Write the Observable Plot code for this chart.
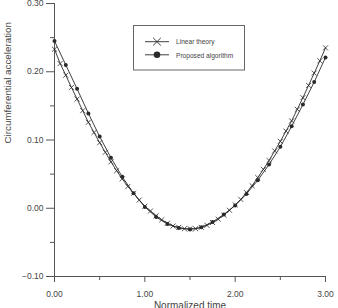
<!DOCTYPE html>
<html>
<head>
<meta charset="utf-8">
<script src="https://cdn.jsdelivr.net/npm/d3@7"></script>
<script src="https://cdn.jsdelivr.net/npm/@observablehq/plot@0.6"></script>
<style>
  html, body { margin: 0; padding: 0; background: #fff; }
  #chart { width: 338px; height: 308px; overflow: hidden; }
</style>
</head>
<body>
<div id="chart"></div>
<script>
// Normalized time samples
const linearTime = d3.range(49).map(k => k * 0.0625);
const proposedTime = d3.range(25).map(k => k * 0.125);

// Circumferential acceleration — Linear theory (× markers)
const linearValues = [
  0.233, 0.212, 0.195, 0.177, 0.160, 0.143, 0.126, 0.111, 0.096, 0.082,
  0.068, 0.055, 0.043, 0.032, 0.022, 0.012, 0.003, -0.004, -0.011, -0.017,
  -0.022, -0.026, -0.028, -0.030, -0.030, -0.030, -0.028, -0.025, -0.021, -0.016,
  -0.010, -0.003, 0.005, 0.013, 0.023, 0.033, 0.045, 0.057, 0.070, 0.084,
  0.098, 0.113, 0.128, 0.145, 0.162, 0.180, 0.198, 0.216, 0.235
];

// Circumferential acceleration — Proposed algorithm (● markers)
const proposedValues = [
  0.245, 0.210, 0.175, 0.139, 0.105, 0.074, 0.046, 0.022, 0.002, -0.013,
  -0.023, -0.029, -0.031, -0.028, -0.020, -0.009, 0.004, 0.021, 0.041, 0.064,
  0.090, 0.120, 0.152, 0.185, 0.221
];

const seriesNames = ["Linear theory", "Proposed algorithm"];
const xTicks = [0, 1, 2, 3];
const xMinorTicks = [0.5, 1.5, 2.5];
const yTicks = [-0.1, 0, 0.1, 0.2, 0.3];
const yMinorTicks = [-0.05, 0.05, 0.15, 0.25];
const xLabel = "Normalized time";
const yLabel = "Circumferential acceleration";

const linear = linearTime.map((t, i) => ({t, v: linearValues[i]}));
const proposed = proposedTime.map((t, i) => ({t, v: proposedValues[i]}));

const axisColor = "#555";
const textColor = "#444";
const lineColor = "#2a2a2a";
const fontFamily = "Liberation Sans, Arial, sans-serif";

const chart = Plot.plot({
  width: 338,
  height: 308,
  marginLeft: 54,
  marginRight: 13,
  marginTop: 3,
  marginBottom: 32,
  style: {fontFamily, background: "#fff", overflow: "visible"},
  x: {domain: [0, 3], axis: null},
  y: {domain: [-0.1, 0.3], axis: null},
  marks: [
    Plot.ruleX([0], {stroke: axisColor, strokeWidth: 1}),
    Plot.ruleY([-0.1], {stroke: axisColor, strokeWidth: 1}),
    Plot.axisY({ticks: yTicks, tickSize: 8, tickPadding: 3, tickFormat: d3.format(".2f"), label: null, fontSize: 8.5, stroke: axisColor, color: textColor}),
    Plot.axisY({ticks: yMinorTicks, tickSize: 4, tickFormat: () => "", label: null, stroke: axisColor}),
    Plot.axisX({ticks: xTicks, tickSize: 6, tickPadding: 8, tickFormat: d3.format(".2f"), label: null, fontSize: 8.5, stroke: axisColor, color: textColor}),
    Plot.axisX({ticks: xMinorTicks, tickSize: 4, tickFormat: () => "", label: null, stroke: axisColor}),
    Plot.text([yLabel], {frameAnchor: "left", rotate: -90, dx: -47, dy: 3.5, fontSize: 9.8, fill: textColor}),
    Plot.text([xLabel], {frameAnchor: "bottom", lineAnchor: "top", dy: 25.5, fontSize: 10, fill: textColor}),
    Plot.line(linear, {x: "t", y: "v", stroke: lineColor, strokeWidth: 0.9}),
    Plot.dot(linear, {x: "t", y: "v", symbol: "times", r: 2.4, stroke: lineColor, strokeWidth: 0.8}),
    Plot.line(proposed, {x: "t", y: "v", stroke: lineColor, strokeWidth: 0.9}),
    Plot.dot(proposed, {x: "t", y: "v", symbol: "circle", r: 2, fill: lineColor, stroke: "none"})
  ]
});

// Legend box inside the plot area
const svg = d3.select(chart);
const lg = svg.append("g").attr("font-family", fontFamily).attr("text-anchor", "start");
lg.append("rect").attr("x", 133.5).attr("y", 25.5).attr("width", 111).attr("height", 44.5)
  .attr("fill", "#fff").attr("stroke", "#666").attr("stroke-width", 1);
const rows = [{y: 41.7}, {y: 54.8}];
rows.forEach((r, i) => {
  lg.append("line").attr("x1", 145).attr("x2", 169).attr("y1", r.y).attr("y2", r.y)
    .attr("stroke", lineColor).attr("stroke-width", 0.9);
  if (i === 0) {
    lg.append("path").attr("d", d3.symbol(d3.symbolTimes, 40)()).attr("transform", `translate(157,${r.y})`)
      .attr("fill", "none").attr("stroke", lineColor).attr("stroke-width", 0.9);
  } else {
    lg.append("circle").attr("cx", 157).attr("cy", r.y).attr("r", 3.3).attr("fill", lineColor);
  }
  lg.append("text").attr("x", 176).attr("y", r.y + 0.6).attr("dy", "0.32em")
    .attr("text-anchor", "start")
    .attr("font-size", 6.6).attr("fill", textColor).text(seriesNames[i]);
});

document.getElementById("chart").appendChild(chart);
</script>
</body>
</html>
